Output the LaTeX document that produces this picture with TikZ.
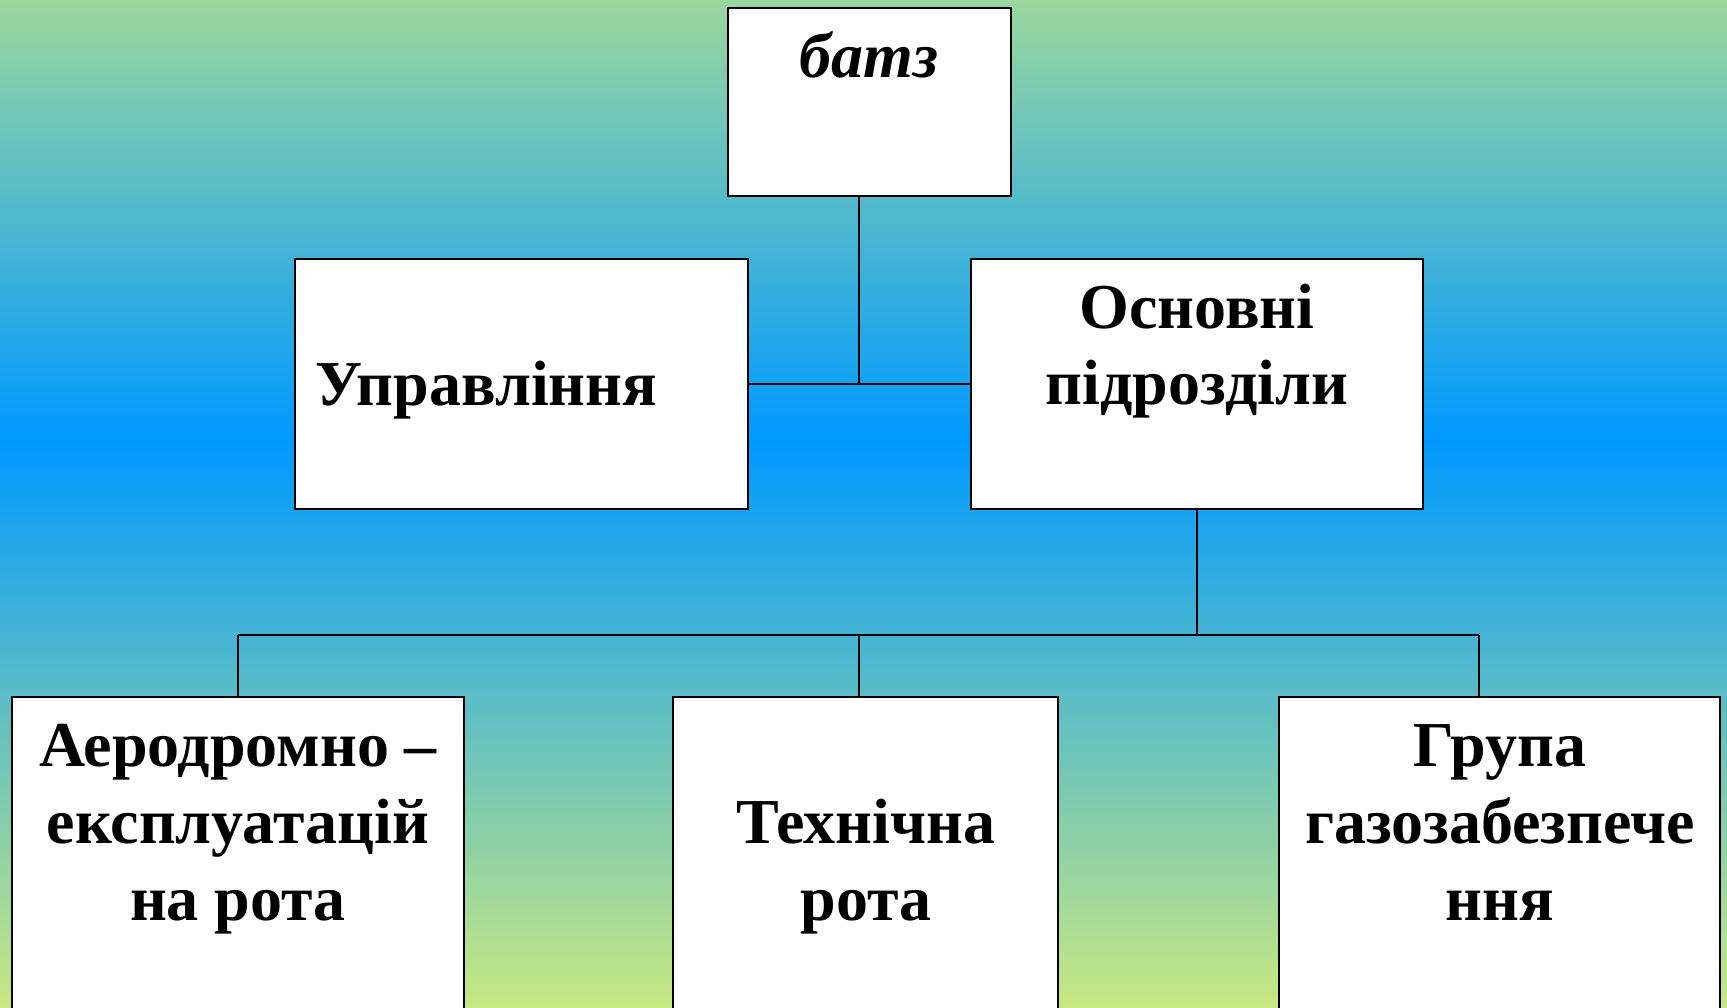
\documentclass[tikz,border=0pt]{standalone}
\usepackage{fontspec}
\setmainfont{Liberation Serif}
\begin{document}
\begin{tikzpicture}[x=1pt,y=-1pt,
  box/.style={draw=black,line width=2.2pt,fill=white,inner sep=0pt},
  conn/.style={draw=black,line width=1.8pt},
  lbl/.style={font=\fontsize{64}{77}\selectfont\bfseries,inner sep=0pt,align=center}]
\definecolor{bgtop}{RGB}{155,215,158}
\definecolor{bgmid}{RGB}{0,153,255}
\definecolor{bgbot}{RGB}{200,232,130}
\useasboundingbox (0,0) rectangle (1727,1007);
\clip (0,0) rectangle (1727,1007);
\shade[top color=bgtop,bottom color=bgmid] (0,0) rectangle (1727,441);
\shade[top color=bgmid,bottom color=bgbot] (0,440) rectangle (1727,1007);
% coordinates of junctions
\coordinate (j1) at (859,384);
\coordinate (bus) at (859,635);
\coordinate (busR) at (1479,635);
% boxes
\node[box,minimum width=283pt,minimum height=188pt] (top) at (869.5,102) {};
\node[box,minimum width=453pt,minimum height=250pt] (upr) at (521.5,384) {};
\node[box,minimum width=452pt,minimum height=250pt] (osn) at (1197,384) {};
\node[box,minimum width=452pt,minimum height=330pt] (aer) at (238,862) {};
\node[box,minimum width=385pt,minimum height=330pt] (tech) at (865.5,862) {};
\node[box,minimum width=441pt,minimum height=330pt] (grup) at (1499.5,862) {};
% connectors
\draw[conn] (top.south -| j1) -- (j1);
\draw[conn] (upr.east) -- (osn.west);
\draw[conn] (osn.south) -- (osn.south |- bus);
\draw[conn] (aer.north |- bus) -- (busR);
\draw[conn] (aer.north |- bus) -- (aer.north);
\draw[conn] (bus) -- (bus |- tech.north);
\draw[conn] (busR) -- (busR |- grup.north);
% texts
\node[lbl,anchor=base,font=\fontsize{64}{77}\selectfont\bfseries\itshape] (tbatz) at (869,77) {батз};
\node[lbl,anchor=base west] (tupr) at (315,405) {Управління};
\node[lbl,anchor=base] (tosn1) at (1197,328) {Основні};
\node[lbl,anchor=base] (tosn2) at (1197,404) {підрозділи};
\node[lbl,anchor=base] (taer1) at (238,766) {Аеродромно –};
\node[lbl,anchor=base] (taer2) at (238,843) {експлуатацій};
\node[lbl,anchor=base] (taer3) at (238,920) {на рота};
\node[lbl,anchor=base] (ttech1) at (866,843) {Технічна};
\node[lbl,anchor=base] (ttech2) at (866,920) {рота};
\node[lbl,anchor=base] (tgrup1) at (1500,766) {Група};
\node[lbl,anchor=base] (tgrup2) at (1500,843) {газозабезпече};
\node[lbl,anchor=base] (tgrup3) at (1500,920) {ння};
\end{tikzpicture}
\end{document}
